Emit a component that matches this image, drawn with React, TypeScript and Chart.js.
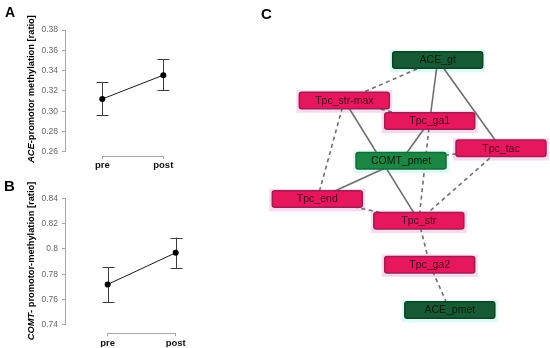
import React, { useEffect, useRef } from 'react';
import { Chart, registerables } from 'chart.js';

Chart.register(...registerables);

const FONT = '"Liberation Sans", Arial, Helvetica, sans-serif';

// ---------- Panel A / B data ----------
const categories = ['pre', 'post'];

const aceMeans = [0.312, 0.3355];
const aceLower = [0.296, 0.3205];
const aceUpper = [0.3285, 0.351];
const aceTicks = [0.26, 0.28, 0.3, 0.32, 0.34, 0.36, 0.38];

const comtMeans = [0.772, 0.797];
const comtLower = [0.758, 0.785];
const comtUpper = [0.7855, 0.809];
const comtTicks = [0.74, 0.76, 0.78, 0.8, 0.82, 0.84];

// ---------- Panel C (network) data ----------
const nodeNames = ['ACE_gt', 'Tpc_str-max', 'Tpc_ga1', 'Tpc_tac', 'COMT_pmet', 'Tpc_end', 'Tpc_str', 'Tpc_ga2', 'ACE_pmet'];
const nodeKinds = ['dark', 'pink', 'pink', 'pink', 'green', 'pink', 'pink', 'pink', 'dark'];
const nodeX = [177.7, 84.3, 169.7, 241, 141, 57.3, 158.8, 169.7, 189.8];
const nodeY = [60, 100.5, 121, 148.3, 160.7, 199, 220.8, 264.7, 310];
const solidEdges = [[0, 2], [0, 3], [1, 6], [2, 4], [4, 5]];
const dashedEdges = [[0, 1], [1, 2], [1, 5], [2, 6], [3, 4], [3, 6], [5, 6], [6, 7], [7, 8]];

const NODE_STYLE: Record<string, { fill: string; stroke: string; text: string; halo: string }> = {
  dark: { fill: '#165b33', stroke: '#0d4224', text: '#061a0d', halo: '#dcfbf6' },
  green: { fill: '#1c8745', stroke: '#136b36', text: '#061a0d', halo: '#dcfbf6' },
  pink: { fill: '#e6175c', stroke: '#9e1f4f', text: '#4a0620', halo: '#fcd8f1' },
};

type PlotProps = {
  means: number[];
  lower: number[];
  upper: number[];
  ticks: number[];
  fmt: (v: number) => string;
  yMin: number;
  xMin: number;
  xMax: number;
  padTop: number;
  padBottom: number;
  width: number;
  height: number;
  left: number;
  top: number;
};

function DescPlot(p: PlotProps) {
  const ref = useRef<HTMLCanvasElement>(null);
  useEffect(() => {
    const errPlugin = {
      id: 'errbars',
      beforeDatasetsDraw(chart: any) {
        const { ctx, scales } = chart;
        const x = scales.x, y = scales.y;
        ctx.save();
        ctx.strokeStyle = '#3a3a3a';
        ctx.lineWidth = 1;
        p.means.forEach((_, i) => {
          const px = Math.round(x.getPixelForValue(i)) + 0.5;
          const y1 = y.getPixelForValue(p.lower[i]);
          const y2 = y.getPixelForValue(p.upper[i]);
          ctx.beginPath();
          ctx.moveTo(px, y1);
          ctx.lineTo(px, y2);
          ctx.moveTo(px - 6, Math.round(y1) + 0.5);
          ctx.lineTo(px + 6, Math.round(y1) + 0.5);
          ctx.moveTo(px - 6, Math.round(y2) + 0.5);
          ctx.lineTo(px + 6, Math.round(y2) + 0.5);
          ctx.stroke();
        });
        ctx.restore();
      },
    };
    const axisPlugin = {
      id: 'jaspAxes',
      beforeDatasetsDraw(chart: any) {
        const { ctx, scales, chartArea } = chart;
        const x = scales.x, y = scales.y;
        ctx.save();
        ctx.strokeStyle = '#a8a8a8';
        ctx.lineWidth = 1;
        ctx.beginPath();
        const lx = Math.round(chartArea.left) - 0.5;
        ctx.moveTo(lx, y.getPixelForValue(p.ticks[0]));
        ctx.lineTo(lx, y.getPixelForValue(p.ticks[p.ticks.length - 1]));
        const by = Math.round(chartArea.bottom) + 0.5;
        ctx.moveTo(x.getPixelForValue(0), by);
        ctx.lineTo(x.getPixelForValue(categories.length - 1), by);
        ctx.stroke();
        ctx.restore();
      },
    };
    const chart = new Chart(ref.current as HTMLCanvasElement, {
      type: 'scatter',
      data: {
        datasets: [
          {
            data: p.means.map((m, i) => ({ x: i, y: m })),
            showLine: true,
            borderColor: '#1a1a1a',
            borderWidth: 1,
            pointRadius: 3,
            pointBackgroundColor: '#000',
            pointBorderColor: '#000',
            pointBorderWidth: 0,
          },
        ],
      },
      options: {
        responsive: false,
        animation: false,
        events: [],
        layout: { padding: { top: p.padTop, right: 10, bottom: p.padBottom, left: 0 } },
        plugins: { legend: { display: false }, tooltip: { enabled: false } },
        scales: {
          x: {
            type: 'linear',
            min: p.xMin,
            max: p.xMax,
            afterBuildTicks: (s: any) => {
              s.ticks = categories.map((_, i) => ({ value: i }));
            },
            afterFit: (s: any) => {
              s.height = 14;
            },
            ticks: {
              callback: (v: any) => categories[v as number] ?? '',
              font: { family: FONT, size: 9.5, weight: 'bold' },
              color: '#111',
              padding: 1,
              maxRotation: 0,
              autoSkip: false,
            },
            grid: { drawOnChartArea: false, drawTicks: true, tickLength: 3, color: '#a8a8a8' },
            border: { display: false },
          },
          y: {
            type: 'linear',
            min: p.yMin,
            max: p.ticks[p.ticks.length - 1],
            afterBuildTicks: (s: any) => {
              s.ticks = p.ticks.map((v) => ({ value: v }));
            },
            afterFit: (s: any) => {
              s.width = 66;
            },
            ticks: {
              callback: (v: any) => p.fmt(v as number),
              font: { family: FONT, size: 8.5 },
              color: '#666',
              padding: 4,
              autoSkip: false,
            },
            grid: { drawOnChartArea: false, drawTicks: true, tickLength: 4, color: '#a8a8a8' },
            border: { display: false },
          },
        },
      } as any,
      plugins: [axisPlugin, errPlugin],
    });
    return () => chart.destroy();
  }, []);
  return (
    <canvas
      ref={ref}
      width={p.width}
      height={p.height}
      style={{ position: 'absolute', left: p.left, top: p.top, width: p.width, height: p.height }}
    />
  );
}

function Network() {
  const ref = useRef<HTMLCanvasElement>(null);
  useEffect(() => {
    const W = 90, H = 16.5;
    const nodePlugin = {
      id: 'nodes',
      beforeDatasetsDraw(chart: any) {
        const { ctx, scales } = chart;
        ctx.save();
        nodeNames.forEach((_, i) => {
          const cx = scales.x.getPixelForValue(nodeX[i]);
          const cy = scales.y.getPixelForValue(nodeY[i]);
          ctx.fillStyle = NODE_STYLE[nodeKinds[i]].halo;
          ctx.fillRect(cx - W / 2 - 3, cy - H / 2 - 2, W + 6, H + 6);
        });
        ctx.restore();
      },
      afterDatasetsDraw(chart: any) {
        const { ctx, scales } = chart;
        ctx.save();
        nodeNames.forEach((name, i) => {
          const st = NODE_STYLE[nodeKinds[i]];
          const cx = scales.x.getPixelForValue(nodeX[i]);
          const cy = scales.y.getPixelForValue(nodeY[i]);
          ctx.beginPath();
          (ctx as any).roundRect(cx - W / 2, cy - H / 2, W, H, 2.5);
          ctx.fillStyle = st.fill;
          ctx.fill();
          ctx.lineWidth = 1.5;
          ctx.strokeStyle = st.stroke;
          ctx.stroke();
          ctx.fillStyle = st.text;
          ctx.font = `10.5px ${FONT}`;
          ctx.textAlign = 'center';
          ctx.textBaseline = 'middle';
          ctx.fillText(name, cx, cy + 0.5);
        });
        ctx.restore();
      },
    };
    const mkEdge = (e: number[], dashed: boolean) => ({
      data: [
        { x: nodeX[e[0]], y: nodeY[e[0]] },
        { x: nodeX[e[1]], y: nodeY[e[1]] },
      ],
      showLine: true,
      pointRadius: 0,
      borderColor: '#6f6f6f',
      borderWidth: 1.6,
      borderDash: dashed ? [4, 3.5] : [],
    });
    const chart = new Chart(ref.current as HTMLCanvasElement, {
      type: 'scatter',
      data: {
        datasets: [...solidEdges.map((e) => mkEdge(e, false)), ...dashedEdges.map((e) => mkEdge(e, true))],
      },
      options: {
        responsive: false,
        animation: false,
        events: [],
        layout: { padding: 0 },
        plugins: { legend: { display: false }, tooltip: { enabled: false } },
        scales: {
          x: { type: 'linear', display: false, min: 0, max: 290 },
          y: { type: 'linear', display: false, min: 0, max: 348, reverse: true },
        },
      } as any,
      plugins: [nodePlugin],
    });
    return () => chart.destroy();
  }, []);
  return (
    <canvas
      ref={ref}
      width={290}
      height={348}
      style={{ position: 'absolute', left: 260, top: 0, width: 290, height: 348 }}
    />
  );
}

const panelLetter = (txt: string, left: number, top: number, size: number) => (
  <div
    style={{
      position: 'absolute',
      left,
      top,
      fontFamily: FONT,
      fontWeight: 'bold',
      fontSize: size,
      lineHeight: `${size}px`,
      color: '#000',
    }}
  >
    {txt}
  </div>
);

const yTitle = (italic: string, rest: string, cx: number, cy: number) => (
  <div
    style={{
      position: 'absolute',
      left: cx,
      top: cy,
      transform: 'translate(-50%, -50%) rotate(-90deg)',
      whiteSpace: 'nowrap',
      fontFamily: FONT,
      fontWeight: 'bold',
      fontSize: 9.3,
      lineHeight: '10px',
      color: '#000',
    }}
  >
    <i>{italic}</i>
    {rest}
  </div>
);

export default function App() {
  return (
    <div
      style={{
        position: 'absolute',
        left: 0,
        top: 0,
        width: 550,
        height: 348,
        background: '#fff',
        overflow: 'hidden',
      }}
    >
      <DescPlot
        means={aceMeans}
        lower={aceLower}
        upper={aceUpper}
        ticks={aceTicks}
        fmt={(v) => v.toFixed(2)}
        yMin={0.2558}
        xMin={-0.595}
        xMax={1.438}
        padTop={30}
        padBottom={0}
        width={200}
        height={170}
        left={0}
        top={0}
      />
      <DescPlot
        means={comtMeans}
        lower={comtLower}
        upper={comtUpper}
        ticks={comtTicks}
        fmt={(v) => String(parseFloat(v.toFixed(2)))}
        yMin={0.7334}
        xMin={-0.613}
        xMax={1.21}
        padTop={28.3}
        padBottom={0.7}
        width={200}
        height={178}
        left={0}
        top={170}
      />
      <Network />
      {panelLetter('A', 5, 5, 14)}
      {panelLetter('B', 4, 178, 15)}
      {panelLetter('C', 261, 6, 15)}
      {yTitle('ACE', '-promotor methylation [ratio]', 31, 89)}
      {yTitle('COMT', '- promotor-methylation [ratio]', 31, 260.5)}
    </div>
  );
}
